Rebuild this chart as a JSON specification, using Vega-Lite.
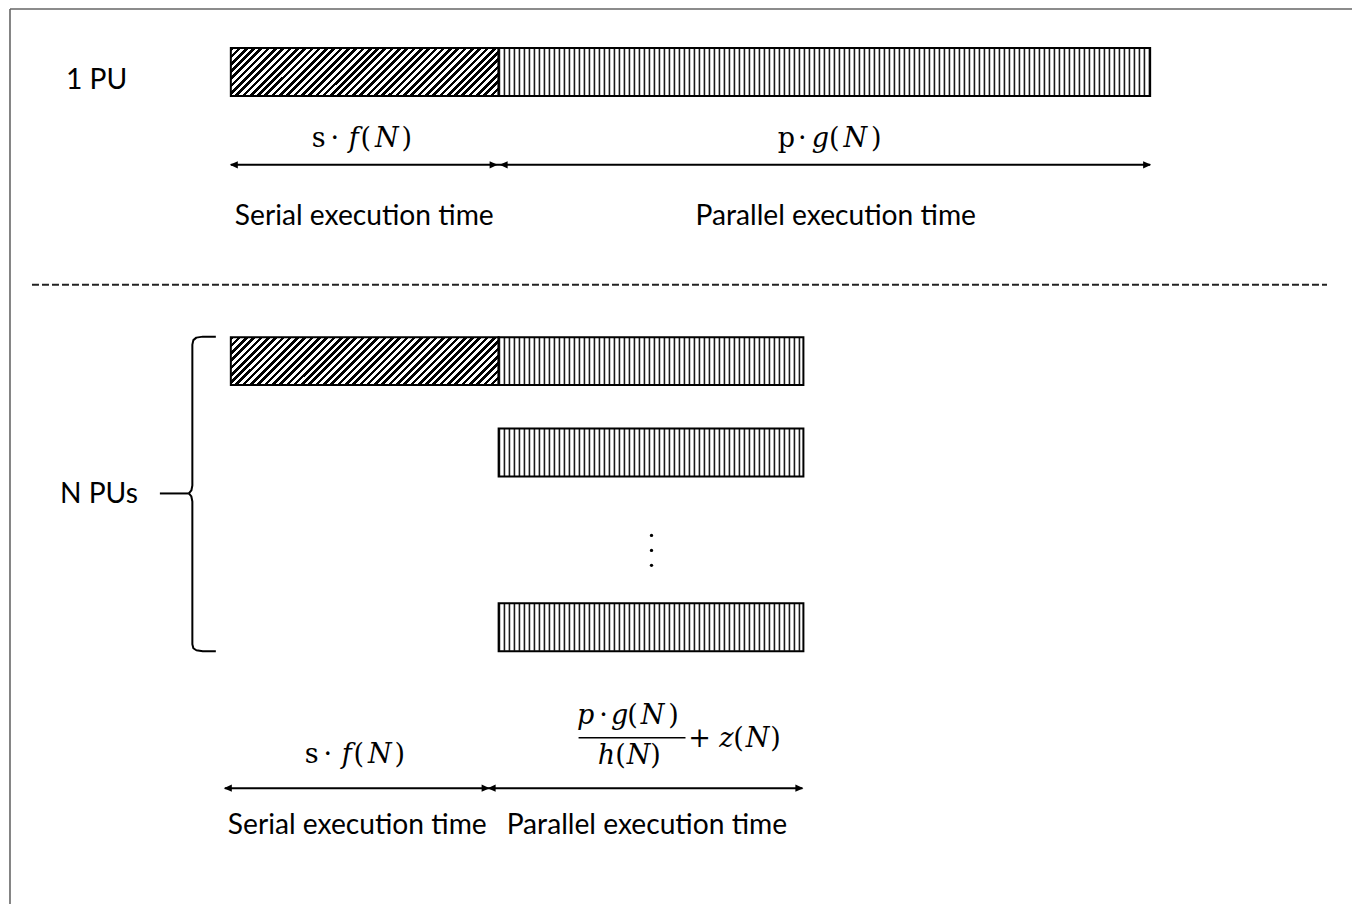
{
  "$schema": "https://vega.github.io/schema/vega-lite/v6.json",
  "width": 1353,
  "height": 905,
  "autosize": {"type": "fit", "contains": "padding"},
  "padding": 0,
  "background": "white",
  "config": {"view": {"stroke": null}},
  "encoding": {
    "x": {"field": "x", "type": "quantitative", "scale": {"domain": [0, 1353], "nice": false, "zero": false}, "axis": null},
    "y": {"field": "y", "type": "quantitative", "scale": {"domain": [0, 905], "nice": false, "zero": false, "reverse": true}, "axis": null}
  },
  "layer": [
    {
      "data": {"values": [{"x": 10, "y": 9, "x2": 1353, "y2": 9}, {"x": 10, "y": 9, "x2": 10, "y2": 905}]},
      "mark": {"type": "rule", "color": "#666666", "strokeWidth": 1.6},
      "encoding": {"x2": {"field": "x2"}, "y2": {"field": "y2"}}
    },
    {
      "data": {"values": [{"x": 32, "y": 285, "x2": 1328}]},
      "mark": {"type": "rule", "color": "#222222", "strokeWidth": 2, "strokeDash": [7, 3]},
      "encoding": {"x2": {"field": "x2"}}
    },
    {
      "data": {"values": [{"x": 231, "x2": 499, "y": 48, "y2": 96}, {"x": 231, "x2": 499, "y": 337.5, "y2": 385.5}]},
      "mark": {
        "type": "rect",
        "stroke": "#000",
        "strokeWidth": 2,
        "fill": {
          "gradient": "linear", "x1": 0, "y1": 0, "x2": 1.3196, "y2": 0.2364,
          "stops": [
            {"offset": 0, "color": "#000"},
            {"offset": 0.01, "color": "#000"}, {"offset": 0.01, "color": "#fff"},
            {"offset": 0.02, "color": "#fff"}, {"offset": 0.02, "color": "#000"},
            {"offset": 0.03, "color": "#000"}, {"offset": 0.03, "color": "#fff"},
            {"offset": 0.04, "color": "#fff"}, {"offset": 0.04, "color": "#000"},
            {"offset": 0.05, "color": "#000"}, {"offset": 0.05, "color": "#fff"},
            {"offset": 0.06, "color": "#fff"}, {"offset": 0.06, "color": "#000"},
            {"offset": 0.07, "color": "#000"}, {"offset": 0.07, "color": "#fff"},
            {"offset": 0.08, "color": "#fff"}, {"offset": 0.08, "color": "#000"},
            {"offset": 0.09, "color": "#000"}, {"offset": 0.09, "color": "#fff"},
            {"offset": 0.10, "color": "#fff"}, {"offset": 0.10, "color": "#000"},
            {"offset": 0.11, "color": "#000"}, {"offset": 0.11, "color": "#fff"},
            {"offset": 0.12, "color": "#fff"}, {"offset": 0.12, "color": "#000"},
            {"offset": 0.13, "color": "#000"}, {"offset": 0.13, "color": "#fff"},
            {"offset": 0.14, "color": "#fff"}, {"offset": 0.14, "color": "#000"},
            {"offset": 0.15, "color": "#000"}, {"offset": 0.15, "color": "#fff"},
            {"offset": 0.16, "color": "#fff"}, {"offset": 0.16, "color": "#000"},
            {"offset": 0.17, "color": "#000"}, {"offset": 0.17, "color": "#fff"},
            {"offset": 0.18, "color": "#fff"}, {"offset": 0.18, "color": "#000"},
            {"offset": 0.19, "color": "#000"}, {"offset": 0.19, "color": "#fff"},
            {"offset": 0.20, "color": "#fff"}, {"offset": 0.20, "color": "#000"},
            {"offset": 0.21, "color": "#000"}, {"offset": 0.21, "color": "#fff"},
            {"offset": 0.22, "color": "#fff"}, {"offset": 0.22, "color": "#000"},
            {"offset": 0.23, "color": "#000"}, {"offset": 0.23, "color": "#fff"},
            {"offset": 0.24, "color": "#fff"}, {"offset": 0.24, "color": "#000"},
            {"offset": 0.25, "color": "#000"}, {"offset": 0.25, "color": "#fff"},
            {"offset": 0.26, "color": "#fff"}, {"offset": 0.26, "color": "#000"},
            {"offset": 0.27, "color": "#000"}, {"offset": 0.27, "color": "#fff"},
            {"offset": 0.28, "color": "#fff"}, {"offset": 0.28, "color": "#000"},
            {"offset": 0.29, "color": "#000"}, {"offset": 0.29, "color": "#fff"},
            {"offset": 0.30, "color": "#fff"}, {"offset": 0.30, "color": "#000"},
            {"offset": 0.31, "color": "#000"}, {"offset": 0.31, "color": "#fff"},
            {"offset": 0.32, "color": "#fff"}, {"offset": 0.32, "color": "#000"},
            {"offset": 0.33, "color": "#000"}, {"offset": 0.33, "color": "#fff"},
            {"offset": 0.34, "color": "#fff"}, {"offset": 0.34, "color": "#000"},
            {"offset": 0.35, "color": "#000"}, {"offset": 0.35, "color": "#fff"},
            {"offset": 0.36, "color": "#fff"}, {"offset": 0.36, "color": "#000"},
            {"offset": 0.37, "color": "#000"}, {"offset": 0.37, "color": "#fff"},
            {"offset": 0.38, "color": "#fff"}, {"offset": 0.38, "color": "#000"},
            {"offset": 0.39, "color": "#000"}, {"offset": 0.39, "color": "#fff"},
            {"offset": 0.40, "color": "#fff"}, {"offset": 0.40, "color": "#000"},
            {"offset": 0.41, "color": "#000"}, {"offset": 0.41, "color": "#fff"},
            {"offset": 0.42, "color": "#fff"}, {"offset": 0.42, "color": "#000"},
            {"offset": 0.43, "color": "#000"}, {"offset": 0.43, "color": "#fff"},
            {"offset": 0.44, "color": "#fff"}, {"offset": 0.44, "color": "#000"},
            {"offset": 0.45, "color": "#000"}, {"offset": 0.45, "color": "#fff"},
            {"offset": 0.46, "color": "#fff"}, {"offset": 0.46, "color": "#000"},
            {"offset": 0.47, "color": "#000"}, {"offset": 0.47, "color": "#fff"},
            {"offset": 0.48, "color": "#fff"}, {"offset": 0.48, "color": "#000"},
            {"offset": 0.49, "color": "#000"}, {"offset": 0.49, "color": "#fff"},
            {"offset": 0.50, "color": "#fff"}, {"offset": 0.50, "color": "#000"},
            {"offset": 0.51, "color": "#000"}, {"offset": 0.51, "color": "#fff"},
            {"offset": 0.52, "color": "#fff"}, {"offset": 0.52, "color": "#000"},
            {"offset": 0.53, "color": "#000"}, {"offset": 0.53, "color": "#fff"},
            {"offset": 0.54, "color": "#fff"}, {"offset": 0.54, "color": "#000"},
            {"offset": 0.55, "color": "#000"}, {"offset": 0.55, "color": "#fff"},
            {"offset": 0.56, "color": "#fff"}, {"offset": 0.56, "color": "#000"},
            {"offset": 0.57, "color": "#000"}, {"offset": 0.57, "color": "#fff"},
            {"offset": 0.58, "color": "#fff"}, {"offset": 0.58, "color": "#000"},
            {"offset": 0.59, "color": "#000"}, {"offset": 0.59, "color": "#fff"},
            {"offset": 0.60, "color": "#fff"}, {"offset": 0.60, "color": "#000"},
            {"offset": 0.61, "color": "#000"}, {"offset": 0.61, "color": "#fff"},
            {"offset": 0.62, "color": "#fff"}, {"offset": 0.62, "color": "#000"},
            {"offset": 0.63, "color": "#000"}, {"offset": 0.63, "color": "#fff"},
            {"offset": 0.64, "color": "#fff"}, {"offset": 0.64, "color": "#000"},
            {"offset": 0.65, "color": "#000"}, {"offset": 0.65, "color": "#fff"},
            {"offset": 0.66, "color": "#fff"}, {"offset": 0.66, "color": "#000"},
            {"offset": 0.67, "color": "#000"}, {"offset": 0.67, "color": "#fff"},
            {"offset": 0.68, "color": "#fff"}, {"offset": 0.68, "color": "#000"},
            {"offset": 0.69, "color": "#000"}, {"offset": 0.69, "color": "#fff"},
            {"offset": 0.70, "color": "#fff"}, {"offset": 0.70, "color": "#000"},
            {"offset": 0.71, "color": "#000"}, {"offset": 0.71, "color": "#fff"},
            {"offset": 0.72, "color": "#fff"}, {"offset": 0.72, "color": "#000"},
            {"offset": 0.73, "color": "#000"}, {"offset": 0.73, "color": "#fff"},
            {"offset": 0.74, "color": "#fff"}, {"offset": 0.74, "color": "#000"},
            {"offset": 0.75, "color": "#000"}, {"offset": 0.75, "color": "#fff"},
            {"offset": 0.76, "color": "#fff"}, {"offset": 0.76, "color": "#000"},
            {"offset": 0.77, "color": "#000"}, {"offset": 0.77, "color": "#fff"},
            {"offset": 0.78, "color": "#fff"}, {"offset": 0.78, "color": "#000"},
            {"offset": 0.79, "color": "#000"}, {"offset": 0.79, "color": "#fff"},
            {"offset": 0.80, "color": "#fff"}, {"offset": 0.80, "color": "#000"},
            {"offset": 0.81, "color": "#000"}, {"offset": 0.81, "color": "#fff"},
            {"offset": 0.82, "color": "#fff"}, {"offset": 0.82, "color": "#000"},
            {"offset": 0.83, "color": "#000"}, {"offset": 0.83, "color": "#fff"},
            {"offset": 0.84, "color": "#fff"}, {"offset": 0.84, "color": "#000"},
            {"offset": 0.85, "color": "#000"}, {"offset": 0.85, "color": "#fff"},
            {"offset": 0.86, "color": "#fff"}, {"offset": 0.86, "color": "#000"},
            {"offset": 0.87, "color": "#000"}, {"offset": 0.87, "color": "#fff"},
            {"offset": 0.88, "color": "#fff"}
          ]
        }
      },
      "encoding": {"x2": {"field": "x2"}, "y2": {"field": "y2"}}
    },
    {
      "data": {"values": [{"x": 499, "x2": 1151, "y": 72}, {"x": 499, "x2": 804, "y": 361.5}, {"x": 499, "x2": 804, "y": 453}, {"x": 499, "x2": 804, "y": 628}]},
      "mark": {"type": "rule", "color": "#1a1a1a", "strokeWidth": 47, "strokeDash": [1.6, 3.4], "strokeCap": "butt"},
      "encoding": {"x2": {"field": "x2"}}
    },
    {
      "data": {"values": [{"x": 499, "x2": 1151, "y": 48, "y2": 96}, {"x": 499, "x2": 804, "y": 337.5, "y2": 385.5}, {"x": 499, "x2": 804, "y": 429, "y2": 477}, {"x": 499, "x2": 804, "y": 604, "y2": 652}]},
      "mark": {"type": "rect", "fill": null, "fillOpacity": 0, "stroke": "#000", "strokeWidth": 2},
      "encoding": {"x2": {"field": "x2"}, "y2": {"field": "y2"}}
    },
    {
      "data": {"values": [{"x": 231, "x2": 1151, "y": 165}, {"x": 225, "x2": 803, "y": 789}]},
      "mark": {"type": "rule", "color": "#000", "strokeWidth": 2},
      "encoding": {"x2": {"field": "x2"}}
    },
    {
      "data": {"values": [{"x": 498, "y": 165}, {"x": 1152, "y": 165}, {"x": 490, "y": 789}, {"x": 804, "y": 789}]},
      "mark": {"type": "point", "shape": "M0,0L-1,-0.45L-1,0.45Z", "size": 256, "filled": true, "color": "#000", "opacity": 1, "strokeWidth": 0}
    },
    {
      "data": {"values": [{"x": 230, "y": 165}, {"x": 500, "y": 165}, {"x": 224, "y": 789}, {"x": 488, "y": 789}]},
      "mark": {"type": "point", "shape": "M0,0L1,-0.45L1,0.45Z", "size": 256, "filled": true, "color": "#000", "opacity": 1, "strokeWidth": 0}
    },
    {
      "data": {"values": [{"x": 652, "y": 536}, {"x": 652, "y": 551}, {"x": 652, "y": 566}]},
      "mark": {"type": "point", "shape": "circle", "size": 11, "filled": true, "color": "#000", "opacity": 1}
    },
    {
      "data": {"values": [
        {"seg": "a", "i": 0, "x": 216, "y": 337},
        {"seg": "a", "i": 1, "x": 203, "y": 337},
        {"seg": "a", "i": 2, "x": 196.5, "y": 338},
        {"seg": "a", "i": 3, "x": 193.5, "y": 340.5},
        {"seg": "a", "i": 4, "x": 192.5, "y": 345},
        {"seg": "a", "i": 5, "x": 192.5, "y": 486},
        {"seg": "a", "i": 6, "x": 191.5, "y": 491},
        {"seg": "a", "i": 7, "x": 189, "y": 494},
        {"seg": "b", "i": 0, "x": 160, "y": 494},
        {"seg": "b", "i": 1, "x": 189, "y": 494},
        {"seg": "c", "i": 0, "x": 189, "y": 494},
        {"seg": "c", "i": 1, "x": 191.5, "y": 497},
        {"seg": "c", "i": 2, "x": 192.5, "y": 502},
        {"seg": "c", "i": 3, "x": 192.5, "y": 645},
        {"seg": "c", "i": 4, "x": 193.5, "y": 649},
        {"seg": "c", "i": 5, "x": 196.5, "y": 651},
        {"seg": "c", "i": 6, "x": 203, "y": 652},
        {"seg": "c", "i": 7, "x": 216, "y": 652}
      ]},
      "mark": {"type": "line", "color": "#000", "strokeWidth": 2, "strokeJoin": "round"},
      "encoding": {"detail": {"field": "seg"}, "order": {"field": "i", "type": "quantitative"}}
    },
    {
      "data": {"values": [{"x": 579, "x2": 686, "y": 738.5}]},
      "mark": {"type": "rule", "color": "#000", "strokeWidth": 1.6},
      "encoding": {"x2": {"field": "x2"}}
    },
    {
      "data": {"values": [
        {"x": 66, "y": 81, "t": "1 PU"},
        {"x": 235, "y": 217, "t": "Serial execution time"},
        {"x": 696, "y": 217, "t": "Parallel execution time"},
        {"x": 60, "y": 496, "t": "N PUs"},
        {"x": 228, "y": 827, "t": "Serial execution time"},
        {"x": 507, "y": 827, "t": "Parallel execution time"}
      ]},
      "mark": {"type": "text", "font": "Lato", "fontSize": 28.2, "align": "left", "baseline": "middle", "color": "#000"},
      "encoding": {"text": {"field": "t"}}
    },
    {
      "data": {"values": [
        {"x": 319, "y": 139, "t": "s"}, {"x": 335, "y": 139, "t": "·"}, {"x": 366, "y": 139, "t": "("}, {"x": 407, "y": 139, "t": ")"},
        {"x": 787, "y": 139, "t": "p"}, {"x": 803, "y": 139, "t": "·"}, {"x": 835, "y": 139, "t": "("}, {"x": 877, "y": 139, "t": ")"},
        {"x": 312, "y": 756, "t": "s"}, {"x": 328, "y": 756, "t": "·"}, {"x": 359, "y": 756, "t": "("}, {"x": 400, "y": 756, "t": ")"},
        {"x": 604, "y": 717, "t": "·"}, {"x": 633, "y": 717, "t": "("}, {"x": 674, "y": 717, "t": ")"},
        {"x": 621, "y": 757, "t": "("}, {"x": 656, "y": 757, "t": ")"},
        {"x": 700, "y": 740, "t": "+"}, {"x": 739, "y": 740, "t": "("}, {"x": 776, "y": 740, "t": ")"}
      ]},
      "mark": {"type": "text", "font": "DejaVu Serif", "fontSize": 27, "align": "center", "baseline": "middle", "color": "#000"},
      "encoding": {"text": {"field": "t"}}
    },
    {
      "data": {"values": [
        {"x": 354, "y": 139, "t": "f"}, {"x": 387, "y": 139, "t": "N"},
        {"x": 821, "y": 139, "t": "g"}, {"x": 856, "y": 139, "t": "N"},
        {"x": 347, "y": 756, "t": "f"}, {"x": 380, "y": 756, "t": "N"},
        {"x": 586, "y": 717, "t": "p"}, {"x": 620, "y": 717, "t": "g"}, {"x": 653, "y": 717, "t": "N"},
        {"x": 607, "y": 757, "t": "h"}, {"x": 639, "y": 757, "t": "N"},
        {"x": 727, "y": 740, "t": "z"}, {"x": 758, "y": 740, "t": "N"}
      ]},
      "mark": {"type": "text", "font": "DejaVu Serif", "fontStyle": "italic", "fontSize": 27, "align": "center", "baseline": "middle", "color": "#000"},
      "encoding": {"text": {"field": "t"}}
    }
  ]
}
